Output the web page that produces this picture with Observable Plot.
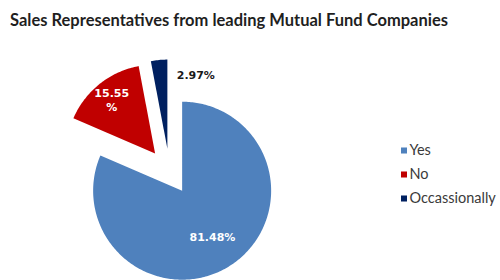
<!DOCTYPE html>
<html><head><meta charset="utf-8">
<script src="https://cdn.jsdelivr.net/npm/d3@7"></script>
<script src="https://cdn.jsdelivr.net/npm/@observablehq/plot@0.6"></script>
<style>
html,body{margin:0;padding:0;background:#fff;}
body{width:500px;height:280px;overflow:hidden;}
#title{box-sizing:border-box;height:40px;padding:12.4px 0 0 10px;font-family:Lato,"Open Sans",sans-serif;font-weight:bold;font-size:16.5px;line-height:16.5px;color:#1f1f1f;white-space:nowrap;}
#chart svg{display:block;}
</style></head><body>
<div id="title">Sales Representatives from leading Mutual Fund Companies</div>
<div id="chart"></div>
<script>
// ---- data ----
const categories = ["Yes", "No", "Occassionally"];
const values = [81.48, 15.55, 2.97];
const labels = ["81.48%", "15.55\n%", "2.97%"];
const colors = ["#4F81BD", "#C00000", "#002060"];

// ---- layout (page pixels) ----
const CX = 169, CY = 171, R = 89, EXPLODE = 23;
const labelFrac = [0.62, 0.78, 0.8];
const legendX = 403.5, legendY0 = 150, legendDy = 24;

const arcs = d3.pie().sort(null).value(d => d)(values);
const poly = [];
const labs = [];
arcs.forEach((a, i) => {
  const m = (a.startAngle + a.endAngle) / 2;
  const ax = CX + EXPLODE * Math.sin(m), ay = CY - EXPLODE * Math.cos(m);
  poly.push({cat: categories[i], x: ax, y: ay});
  const n = Math.max(8, Math.ceil((a.endAngle - a.startAngle) * 60));
  for (let k = 0; k <= n; k++) {
    const t = a.startAngle + (a.endAngle - a.startAngle) * k / n;
    poly.push({cat: categories[i], x: ax + R * Math.sin(t), y: ay - R * Math.cos(t)});
  }
  labs.push({cat: categories[i], text: labels[i], i,
    x: ax + labelFrac[i] * R * Math.sin(m), y: ay - labelFrac[i] * R * Math.cos(m)});
});

const chart = Plot.plot({
  width: 500, height: 240, margin: 0,
  x: {domain: [0, 500], range: [0, 500], axis: null},
  y: {domain: [40, 280], range: [0, 240], axis: null},
  color: {domain: categories, range: colors},
  style: {background: "#fff"},
  marks: [
    Plot.line(poly, {x: "x", y: "y", z: "cat", fill: "cat", stroke: "none", curve: "linear-closed"}),
    Plot.text(labs.filter(d => d.i < 2), {x: "x", y: "y", text: "text", fill: "white",
      fontFamily: "DejaVu Sans", fontWeight: "bold", fontSize: 11, lineHeight: 1.25}),
    Plot.text(labs.filter(d => d.i === 2), {x: "x", y: "y", text: "text", fill: "#1a1a1a",
      fontFamily: "DejaVu Sans", fontWeight: "bold", fontSize: 11, textAnchor: "start", dx: 16, dy: -2}),
    Plot.dot(categories, {x: () => legendX, y: (d, i) => legendY0 + i * legendDy, fill: d => d,
      symbol: "square", r: 3.4, stroke: "none"}),
    Plot.text(categories, {x: () => legendX + 5.5, y: (d, i) => legendY0 + i * legendDy, text: d => d,
      textAnchor: "start", fill: "#3a3a3a", fontFamily: "Lato", fontSize: 14.5})
  ]
});
document.getElementById("chart").appendChild(chart);
</script>
</body></html>
